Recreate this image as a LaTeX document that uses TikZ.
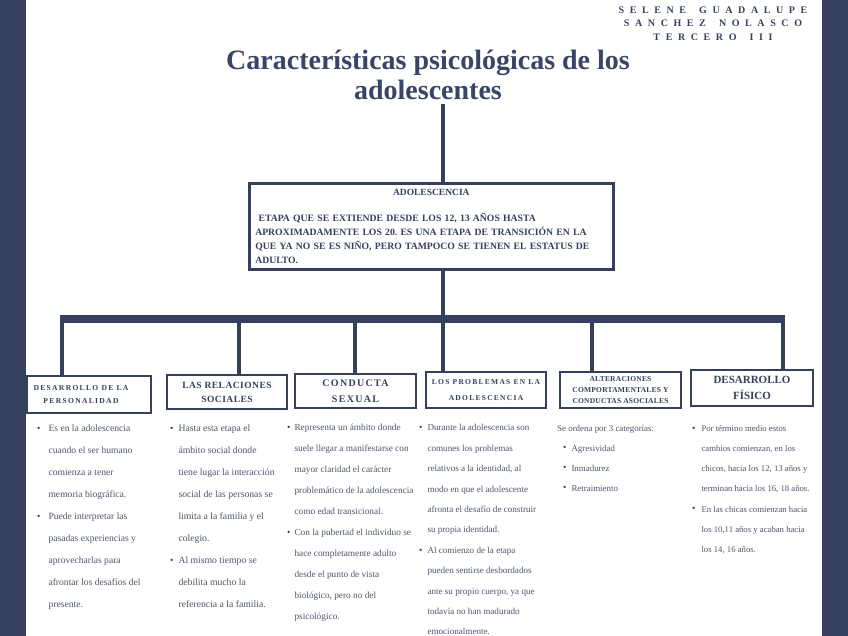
\documentclass[tikz,border=0pt]{standalone}
\usepackage{fontspec}
\setmainfont{Liberation Serif}
\usepackage{tikz}
\usetikzlibrary{positioning, calc}
\definecolor{navyband}{HTML}{35405E}
\definecolor{titleblue}{HTML}{3A4466}
\definecolor{bodygrey}{HTML}{4F556E}
\newcommand{\itembul}{\raisebox{0.3pt}{\color{navyband}\fontsize{9.5}{9.5}\selectfont\textbullet}}

\begin{document}
\begin{tikzpicture}[
  x=1pt, y=-1pt,
  band/.style={fill=navyband, draw=none},
  mainbox/.style={draw=navyband, line width=2.6pt, anchor=north west, minimum width=364pt, minimum height=86pt,
    text width=352pt, inner sep=5pt, align=left, text=navyband, font=\bfseries\frenchspacing\fontsize{9.7}{14}\selectfont},
  catbox/.style={draw=navyband, line width=1.7pt, fill=white, align=center, inner sep=1pt, text=navyband},
  stemline/.style={draw=navyband, line width=3.5pt},
  barline/.style={draw=navyband, line width=8pt},
  coltext/.style={anchor=north west, inner sep=0pt, text=bodygrey},
]

  % Page
  \fill[white] (0,0) rectangle (848,636);
  \useasboundingbox (0,0) rectangle (848,636);
  \fill[band] (0,0) rectangle (26,636);
  \fill[band] (822,0) rectangle (848,636);

  % Title and author
  \node[align=center, text=titleblue, font=\bfseries\fontsize{28}{30}\selectfont] (title) at (428,75)
    {Características psicológicas de los\\adolescentes};
  \node[align=center, text=navyband, font=\bfseries\fontsize{10}{13.5}\selectfont\addfontfeature{LetterSpace=56}] (author) at (713,23.5)
    {SELENE\hspace{5pt} GUADALUPE\\SANCHEZ\hspace{5pt} NOLASCO\\TERCERO\hspace{5pt} III};

  % Central box
  \node[mainbox] (adol) at (248,182) {\hfill{\fontsize{9.5}{14}\selectfont ADOLESCENCIA}\hfill\null\\[12pt]
    \ ETAPA QUE SE EXTIENDE DESDE LOS 12, 13 AÑOS HASTA\\
    APROXIMADAMENTE LOS 20. ES UNA ETAPA DE TRANSICIÓN EN LA\\
    QUE YA NO SE ES NIÑO, PERO TAMPOCO SE TIENEN EL ESTATUS DE\\
    ADULTO.};

  % Category boxes
  \node[catbox, minimum width=124pt, minimum height=37pt, font=\bfseries\fontsize{7.6}{13}\selectfont\addfontfeature{LetterSpace=17}]
    (personalidad) at (89,394.5) {\begin{tabular}{@{}c@{\hspace{16pt}}}DESARROLLO DE LA\\PERSONALIDAD\end{tabular}};
  \node[catbox, minimum width=120pt, minimum height=34pt, font=\bfseries\fontsize{9.5}{14}\selectfont\addfontfeature{LetterSpace=5}]
    (relaciones) at (227,392) {LAS RELACIONES\\SOCIALES};
  \node[catbox, minimum width=121pt, minimum height=34pt, font=\bfseries\fontsize{10}{16}\selectfont\addfontfeature{LetterSpace=13}]
    (conducta) at (355.5,391) {CONDUCTA\\SEXUAL};
  \node[catbox, minimum width=120pt, minimum height=36pt, font=\bfseries\fontsize{7.5}{16}\selectfont\addfontfeature{LetterSpace=17}]
    (problemas) at (486,390) {LOS PROBLEMAS EN LA\\ADOLESCENCIA};
  \node[catbox, minimum width=121pt, minimum height=36pt, font=\bfseries\fontsize{7.5}{11}\selectfont\addfontfeature{LetterSpace=3}]
    (alteraciones) at (620.5,390) {ALTERACIONES\\COMPORTAMENTALES Y\\CONDUCTAS ASOCIALES};
  \node[catbox, minimum width=122pt, minimum height=36pt, font=\bfseries\fontsize{11}{16}\selectfont]
    (fisico) at (752,388) {DESARROLLO\\FÍSICO};

  % Connectors
  \coordinate (top) at (443,104);
  \coordinate (d1) at (62,319);
  \coordinate (d2) at (239,319);
  \coordinate (d3) at (355,319);
  \coordinate (d5) at (592,319);
  \coordinate (d6) at (783,319);
  \draw[stemline] (top) -- (top |- adol.north);
  \draw[stemline] (top |- adol.south) -- (top |- d1);
  \draw[barline] ($(d1)+(-1.75,0)$) -- ($(d6)+(1.75,0)$);
  \draw[stemline] (d1) -- (d1 |- personalidad.north);
  \draw[stemline] (d2) -- (d2 |- relaciones.north);
  \draw[stemline] (d3) -- (d3 |- conducta.north);
  \draw[stemline] (top |- d1) -- (top |- problemas.north);
  \draw[stemline] (d5) -- (d5 |- alteraciones.north);
  \draw[stemline] (d6) -- (d6 |- fisico.north);

  % Column texts
  \node[coltext, font=\fontsize{9.6}{22}\selectfont] (txtpersonalidad) at (37,416) {\begin{tabular}{@{}l@{\hspace{8pt}}l@{}}
    \itembul & Es en la adolescencia\\
     & cuando el ser humano\\
     & comienza a tener\\
     & memoria biográfica.\\
    \itembul & Puede interpretar las\\
     & pasadas experiencias y\\
     & aprovecharlas para\\
     & afrontar los desafíos del\\
     & presente.
  \end{tabular}};
  \node[coltext, font=\fontsize{9.7}{22}\selectfont] (txtrelaciones) at (170,416) {\begin{tabular}{@{}l@{\hspace{5pt}}l@{}}
    \itembul & Hasta esta etapa el\\
     & ámbito social donde\\
     & tiene lugar la interacción\\
     & social de las personas se\\
     & limita a la familia y el\\
     & colegio.\\
    \itembul & Al mismo tiempo se\\
     & debilita mucho la\\
     & referencia a la familia.
  \end{tabular}};
  \node[coltext, font=\fontsize{9.3}{21}\selectfont] (txtconducta) at (287,416) {\begin{tabular}{@{}l@{\hspace{4pt}}l@{}}
    \itembul & Representa un ámbito donde\\
     & suele llegar a manifestarse con\\
     & mayor claridad el carácter\\
     & problemático de la adolescencia\\
     & como edad transicional.\\
    \itembul & Con la pubertad el individuo se\\
     & hace completamente adulto\\
     & desde el punto de vista\\
     & biológico, pero no del\\
     & psicológico.
  \end{tabular}};
  \node[coltext, font=\fontsize{9.1}{20.4}\selectfont] (txtproblemas) at (419,416.5) {\begin{tabular}{@{}l@{\hspace{5pt}}l@{}}
    \itembul & Durante la adolescencia son\\
     & comunes los problemas\\
     & relativos a la identidad, al\\
     & modo en que el adolescente\\
     & afronta el desafío de construir\\
     & su propia identidad.\\
    \itembul & Al comienzo de la etapa\\
     & pueden sentirse desbordados\\
     & ante su propio cuerpo, ya que\\
     & todavía no han madurado\\
     & emocionalmente.
  \end{tabular}};
  \node[coltext, font=\fontsize{8.9}{20}\selectfont] (txtalteraciones) at (557,417) {\begin{tabular}{@{\hspace{6pt}}l@{\hspace{5pt}}l@{}}
    \multicolumn{2}{@{}l@{}}{Se ordena por 3 categorías:}\\
    \itembul & Agresividad\\
    \itembul & Inmadurez\\
    \itembul & Retraimiento
  \end{tabular}};
  \node[coltext, font=\fontsize{8.7}{20.2}\selectfont] (txtfisico) at (692,417) {\begin{tabular}{@{}l@{\hspace{6pt}}l@{}}
    \itembul & Por término medio estos\\
     & cambios comienzan, en los\\
     & chicos, hacia los 12, 13 años y\\
     & terminan hacia los 16, 18 años.\\
    \itembul & En las chicas comienzan hacia\\
     & los 10,11 años y acaban hacia\\
     & los 14, 16 años.
  \end{tabular}};

\end{tikzpicture}
\end{document}
